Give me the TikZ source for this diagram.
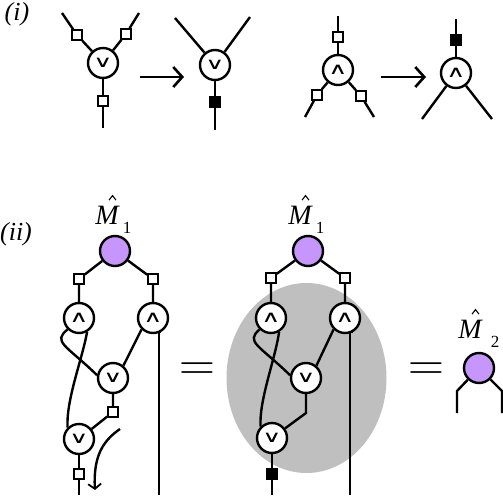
\documentclass[tikz,border=0pt]{standalone}
\usepackage{amsmath}
\usepackage{fontspec}
\setmainfont{Liberation Serif}
\newfontfamily\opfont{DejaVu Sans}
\usetikzlibrary{arrows.meta,positioning}
\definecolor{opurple}{RGB}{199,150,252}
\newcommand{\veesym}{\scalebox{1}[.62]{\opfont ∨}}
\newcommand{\wedgesym}{\scalebox{1}[.62]{\opfont ∧}}
\newcommand{\eqsym}{\scalebox{2}{\fontsize{24.88}{25}\selectfont$=$}}
\newcommand{\hatmark}[1]{\draw[line width=1.1pt] ([xshift=2pt,yshift=4.5pt]#1.north) -- ([xshift=5.5pt,yshift=9pt]#1.north) -- ([xshift=9pt,yshift=4.5pt]#1.north);}

\begin{document}
\begin{tikzpicture}[
        x=1pt, y=-1pt, on grid,
        line width=2.4pt,
        op/.style={draw, circle, fill=white, minimum size=30pt, inner sep=0pt, font=\fontsize{26}{26}\selectfont},
        mat/.style={draw, circle, fill=opurple, minimum size=30pt, inner sep=0pt},
        wbox/.style={draw, rectangle, fill=white, minimum size=9.5pt, inner sep=0pt, line width=2pt},
        bbox/.style={draw, rectangle, fill=black, minimum size=11pt, inner sep=0pt, line width=1pt},
        arrow/.style={-{Straight Barb[length=9pt,width=20pt,line width=2.6pt]}},
        tag/.style={inner sep=0pt, font=\fontsize{26}{26}\selectfont\itshape},
        lbl/.style={inner sep=0pt, font=\fontsize{28}{28}\selectfont\itshape},
        sub/.style={inner sep=0pt, font=\fontsize{17}{17}\selectfont},
        eq/.style={inner sep=0pt}
    ]
        \useasboundingbox (0,0) rectangle (503,497);

        % Grey region
        \fill[gray!50] (306.5,378) ellipse [x radius=80pt, y radius=95pt];

        % Part (i)
        \node[tag] (ti) at (17,14) {(i)};

        \node[op] (a0) at (103,63) {\veesym};
        \node[wbox, above left=28pt and 26pt of a0] (a1) {};
        \node[wbox, above right=29pt and 23pt of a0] (a2) {};
        \node[wbox, below=38pt of a0] (a3) {};
        \coordinate[above left=22pt and 15pt of a1] (a4);
        \coordinate[above right=21pt and 13pt of a2] (a5);
        \coordinate[below=27pt of a3] (a6);
        \draw (a4) -- (a1) -- (a0);
        \draw (a5) -- (a2) -- (a0);
        \draw (a0) -- (a3) -- (a6);

        \coordinate (p1) at (140,77);
        \coordinate (p2) at (184,77);
        \draw[arrow] (p1) -- (p2);

        \node[op] (b0) at (215,65) {\veesym};
        \node[bbox, below=37pt of b0] (b1) {};
        \coordinate[above left=47pt and 40pt of b0] (b2);
        \coordinate[above right=48pt and 35pt of b0] (b3);
        \coordinate[below=28pt of b1] (b4);
        \draw (b2) -- (b0);
        \draw (b3) -- (b0);
        \draw (b0) -- (b1) -- (b4);

        \node[op] (c0) at (338,70) {\wedgesym};
        \node[wbox, above=33pt of c0] (c1) {};
        \node[wbox, below left=25pt and 21pt of c0] (c2) {};
        \node[wbox, below right=26pt and 23pt of c0] (c3) {};
        \coordinate[above=21pt of c1] (c4);
        \coordinate[below left=22pt and 12pt of c2] (c5);
        \coordinate[below right=21pt and 13pt of c3] (c6);
        \draw (c4) -- (c1) -- (c0);
        \draw (c0) -- (c2) -- (c5);
        \draw (c0) -- (c3) -- (c6);

        \coordinate (p3) at (381,77);
        \coordinate (p4) at (426,77);
        \draw[arrow] (p3) -- (p4);

        \node[op] (d0) at (456,73) {\wedgesym};
        \node[bbox, above=33pt of d0] (d1) {};
        \coordinate[above=21pt of d1] (d2);
        \coordinate[below left=46pt and 34pt of d0] (d3);
        \coordinate[below right=46pt and 36pt of d0] (d4);
        \draw (d2) -- (d1) -- (d0);
        \draw (d0) -- (d3);
        \draw (d0) -- (d4);

        % Part (ii), left
        \node[tag] (tii) at (16,234) {(ii)};

        \node[mat] (e0) at (115,251) {};
        \node[lbl] (e9) at (107,215) {M};
        \hatmark{e9}
        \node[sub] (e10) at (127,228) {1};
        \node[wbox, below left=28pt and 36pt of e0] (e1) {};
        \node[wbox, below right=28pt and 38pt of e0] (e2) {};
        \node[op, below=39pt of e1] (e3) {\wedgesym};
        \node[op, below=39pt of e2] (e4) {\wedgesym};
        \node[op] (e5) at (113,378) {\veesym};
        \node[wbox, below=34pt of e5] (e6) {};
        \node[op] (e7) at (79,439) {\veesym};
        \node[wbox, below=35pt of e7] (e8) {};
        \coordinate[below=21pt of e8] (f1);
        \coordinate (f2) at (159,495);
        \coordinate (f3) at (120,429);
        \coordinate (f4) at (95,490);

        \draw (e0) -- (e1) -- (e3);
        \draw (e0) -- (e2) -- (e4);
        \draw (e3.225) .. controls (52,342) and (66,345) .. (e5.170);
        \draw (e3.300) .. controls (82,360) and (66,400) .. (e7.135);
        \draw (e4.225) -- (e5.50);
        \draw (e5) -- (e6) -- (e7);
        \draw (e7) -- (e8) -- (f1);
        \draw (e4.300) -- (f2 |- e4.300) -- (f2);
        \draw[-{Straight Barb[length=5pt,width=13pt,line width=1.8pt]}] (f3) .. controls (104,440) and (93,455) .. (f4);

        \node[eq] (q1) at (197,372) {\eqsym};

        % Part (ii), middle
        \node[mat] (g0) at (308,251) {};
        \node[lbl] (g9) at (300,215) {M};
        \hatmark{g9}
        \node[sub] (g10) at (320,228) {1};
        \node[wbox, below left=27pt and 37pt of g0] (g1) {};
        \node[wbox, below right=27pt and 37pt of g0] (g2) {};
        \node[op, below=40pt of g1] (g3) {\wedgesym};
        \node[op, below=40pt of g2] (g4) {\wedgesym};
        \node[op] (g5) at (306,378) {\veesym};
        \coordinate[below=35pt of g5] (g6);
        \node[op] (g7) at (272,438) {\veesym};
        \node[bbox, below=36pt of g7] (g8) {};
        \coordinate[below=21pt of g8] (h1);
        \coordinate (h2) at (350,495);

        \draw (g0) -- (g1) -- (g3);
        \draw (g0) -- (g2) -- (g4);
        \draw (g3.225) .. controls (245,342) and (259,345) .. (g5.170);
        \draw (g3.300) .. controls (275,360) and (259,400) .. (g7.135);
        \draw (g4.225) -- (g5.50);
        \draw (g5) -- (g6) -- (g7);
        \draw (g7) -- (g8) -- (h1);
        \draw (g4.300) -- (h2 |- g4.300) -- (h2);

        \node[eq] (q2) at (426,372) {\eqsym};

        % Part (ii), right
        \node[mat] (k0) at (479,368) {};
        \node[lbl] (k9) at (470,329) {M};
        \hatmark{k9}
        \node[sub] (k10) at (495,342) {2};
        \coordinate (k1) at (457,391);
        \coordinate (k2) at (457,413);
        \coordinate (k3) at (502,391);
        \coordinate (k4) at (502,413);
        \draw (k0) -- (k1) -- (k2);
        \draw (k0) -- (k3) -- (k4);
    \end{tikzpicture}
\end{document}
